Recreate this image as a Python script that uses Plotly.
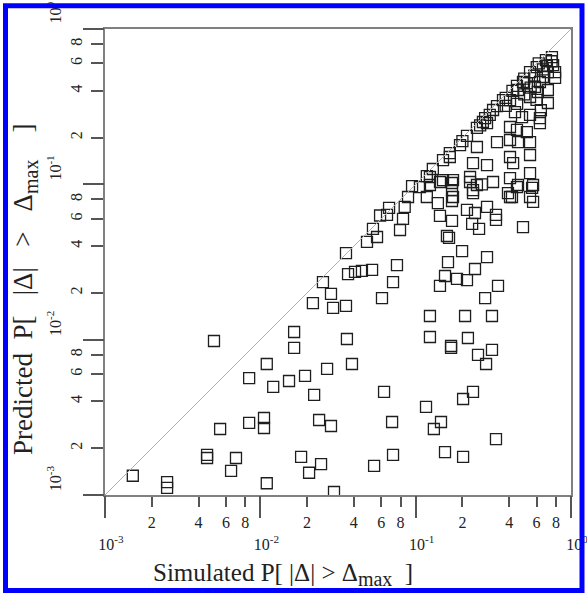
import plotly.graph_objects as go

# Simulated (x) and predicted (y) probabilities
sim_x = [
    1.51e-3, 2.51e-3, 2.51e-3, 4.54e-3, 4.54e-3, 5.51e-3, 6.48e-3, 6.97e-3, 8.47e-3, 1.056e-2,
    1.056e-2, 1.10e-2, 8.47e-3, 1.21e-2, 1.53e-2, 1.94e-2, 2.22e-2, 2.39e-2, 2.85e-2, 1.83e-2,
    2.46e-2, 2.06e-2, 2.98e-2, 6.26e-2, 7.05e-2, 5.40e-2, 7.15e-2, 1.166e-1, 1.456e-1, 1.31e-1,
    1.545e-1, 2.02e-1, 2.34e-1, 2.02e-1, 3.29e-1, 5.03e-3, 2.53e-2, 2.85e-2, 2.18e-2, 2.94e-2,
    1.65e-2, 1.65e-2, 1.10e-2, 2.69e-2, 9.48e-2, 1.066e-1, 1.236e-1, 1.434e-1, 1.714e-1, 1.714e-1,
    2.24e-1, 2.34e-1, 2.67e-1, 3.15e-1, 3.93e-1, 4.17e-1, 4.56e-1, 5.62e-1, 5.70e-1, 1.39e-1,
    1.714e-1, 1.434e-1, 1.714e-1, 2.14e-1, 2.41e-1, 2.88e-1, 3.29e-1, 3.29e-1, 2.31e-1, 2.56e-1,
    4.91e-1, 1.59e-1, 1.64e-1, 1.99e-1, 1.615e-1, 2.88e-1, 2.41e-1, 1.545e-1, 1.845e-1, 2.14e-1,
    1.434e-1, 3.39e-1, 2.80e-1, 1.236e-1, 2.08e-1, 3.10e-1, 1.236e-1, 1.69e-1, 1.69e-1, 2.17e-1,
    2.52e-1, 3.10e-1, 2.84e-1, 8.93e-2, 8.50e-2, 8.29e-2, 7.93e-2, 6.74e-2, 5.90e-2, 6.54e-2,
    5.31e-2, 5.64e-2, 4.86e-2, 3.56e-2, 3.67e-2, 4.07e-2, 4.51e-2, 5.24e-2, 7.58e-2, 7.15e-2,
    6.07e-2, 3.56e-2, 3.61e-2, 3.89e-2,
    7.54e-1, 6.90e-1, 7.67e-1, 7.90e-1, 7.10e-1, 6.60e-1, 7.90e-1, 6.02e-1, 5.45e-1, 6.31e-1,
    5.86e-1, 4.91e-1, 5.20e-1, 4.49e-1, 4.56e-1, 6.12e-1, 7.10e-1, 5.45e-1, 7.10e-1, 3.65e-1,
    4.05e-1, 3.34e-1, 3.15e-1, 3.80e-1, 2.71e-1, 2.80e-1, 4.36e-1, 4.84e-1, 5.45e-1, 6.31e-1,
    2.14e-1, 2.48e-1, 2.88e-1, 4.05e-1, 4.49e-1, 5.20e-1, 6.31e-1, 1.66e-1, 1.93e-1, 2.48e-1,
    3.34e-1, 4.05e-1, 4.56e-1, 5.45e-1, 1.29e-1, 1.50e-1, 1.66e-1, 2.34e-1, 2.88e-1, 4.05e-1,
    4.24e-1, 5.45e-1, 1.18e-1, 1.236e-1, 1.50e-1, 1.74e-1, 2.24e-1, 2.48e-1, 4.05e-1, 4.49e-1,
    5.45e-1, 5.70e-1, 1.18e-1, 1.74e-1, 2.34e-1, 4.05e-1, 5.45e-1,
    6.20e-1, 6.60e-1, 5.00e-1, 4.20e-1, 3.80e-1, 3.00e-1, 2.60e-1, 2.00e-1, 7.00e-1, 7.50e-1,
    5.80e-1, 4.50e-1, 5.00e-1, 5.50e-1, 6.00e-1, 6.40e-1,
]
pred_y = [
    1.33e-3, 1.21e-3, 1.11e-3, 1.81e-3, 1.73e-3, 2.66e-3, 1.43e-3, 1.73e-3, 2.91e-3, 3.13e-3,
    2.70e-3, 1.19e-3, 5.66e-3, 4.96e-3, 5.42e-3, 5.84e-3, 4.41e-3, 3.04e-3, 2.78e-3, 1.76e-3,
    1.58e-3, 1.39e-3, 1.045e-3, 4.61e-3, 2.95e-3, 1.54e-3, 1.81e-3, 3.69e-3, 2.95e-3, 2.66e-3,
    1.89e-3, 4.15e-3, 4.61e-3, 1.76e-3, 2.29e-3, 9.80e-3, 2.35e-2, 1.97e-2, 1.72e-2, 1.60e-2,
    1.12e-2, 8.85e-3, 6.97e-3, 6.48e-3, 9.75e-2, 9.60e-2, 9.90e-2, 1.035e-1, 1.02e-1, 9.19e-2,
    1.035e-1, 9.19e-2, 1.00e-1, 1.035e-1, 8.78e-2, 8.29e-2, 9.90e-2, 9.48e-2, 7.70e-2, 7.58e-2,
    7.81e-2, 6.26e-2, 5.81e-2, 6.84e-2, 6.54e-2, 7.15e-2, 6.35e-2, 5.90e-2, 5.56e-2, 5.16e-2,
    5.31e-2, 4.65e-2, 4.52e-2, 3.72e-2, 3.16e-2, 3.40e-2, 2.85e-2, 2.57e-2, 2.46e-2, 2.42e-2,
    2.22e-2, 2.22e-2, 1.85e-2, 1.42e-2, 1.42e-2, 1.42e-2, 1.04e-2, 9.10e-3, 8.85e-3, 1.025e-2,
    7.98e-3, 8.60e-3, 6.97e-3, 8.29e-2, 7.15e-2, 5.99e-2, 5.08e-2, 7.05e-2, 6.30e-2, 6.35e-2,
    5.16e-2, 4.58e-2, 4.26e-2, 3.61e-2, 2.64e-2, 2.73e-2, 2.77e-2, 2.81e-2, 3.02e-2, 2.35e-2,
    1.85e-2, 1.65e-2, 1.01e-2, 6.97e-3,
    6.60e-1, 6.31e-1, 5.86e-1, 5.28e-1, 5.28e-1, 4.91e-1, 4.84e-1, 5.69e-1, 5.28e-1, 4.56e-1,
    4.24e-1, 4.56e-1, 4.49e-1, 4.30e-1, 4.05e-1, 3.93e-1, 4.05e-1, 3.65e-1, 3.34e-1, 3.49e-1,
    3.49e-1, 3.19e-1, 3.01e-1, 3.20e-1, 2.52e-1, 2.67e-1, 2.92e-1, 2.71e-1, 2.80e-1, 2.67e-1,
    2.05e-1, 2.31e-1, 2.48e-1, 2.34e-1, 2.24e-1, 2.17e-1, 2.48e-1, 1.59e-1, 1.79e-1, 1.74e-1,
    1.87e-1, 1.93e-1, 1.87e-1, 1.87e-1, 1.255e-1, 1.43e-1, 1.50e-1, 1.37e-1, 1.33e-1, 1.50e-1,
    1.37e-1, 1.545e-1, 1.13e-1, 1.115e-1, 1.066e-1, 1.066e-1, 1.115e-1, 9.90e-2, 1.098e-1, 9.60e-2,
    1.18e-1, 9.90e-2, 8.29e-2, 8.29e-2, 8.78e-2, 8.29e-2, 8.29e-2,
    6.00e-1, 5.50e-1, 4.80e-1, 4.00e-1, 3.60e-1, 2.80e-1, 2.40e-1, 1.90e-1, 5.80e-1, 6.20e-1,
    5.00e-1, 3.30e-1, 3.80e-1, 4.20e-1, 3.50e-1, 3.00e-1,
]

# Axis ticks
minor_vals = [2e-3, 4e-3, 6e-3, 8e-3, 2e-2, 4e-2, 6e-2, 8e-2, 2e-1, 4e-1, 6e-1, 8e-1]
minor_text = ["2", "4", "6", "8"] * 3
major_vals = [1e-3, 1e-2, 1e-1, 1.0]
major_text = ["10<sup>-3</sup>", "10<sup>-2</sup>", "10<sup>-1</sup>", "10<sup>0</sup>"]
diag = [1e-3, 1.0]
axis_range = [-3.0001, 0.0001]

SERIF = "Liberation Serif, Times New Roman, serif"
W, H = 587, 594
ML, MR, MT, MB = 105, 16, 29, 99
PW, PH = W - ML - MR, H - MT - MB
NB = "\u00a0"


def px(xp):
    return (xp - ML) / PW


def py(yp):
    return (H - MB - yp) / PH


fig = go.Figure()
fig.add_trace(go.Scatter(x=diag, y=diag, mode="lines", xaxis="x2", yaxis="y2",
                         line=dict(color="#b0b0b0", width=1), hoverinfo="skip", showlegend=False))
fig.add_trace(go.Scatter(x=sim_x, y=pred_y, mode="markers", showlegend=False,
                         marker=dict(symbol="square-open", size=11, color="#1e1e1e",
                                     line=dict(width=1.3, color="#1e1e1e"))))

common = dict(type="log", range=axis_range, showgrid=False, zeroline=False, automargin=False,
              ticks="outside", tickcolor="#555555", tickwidth=1.5, ticklabeloverflow="allow",
              tickfont=dict(family=SERIF, size=16, color="#222222"))

fig.update_layout(
    width=W, height=H,
    margin=dict(l=ML, r=MR, t=MT, b=MB, autoexpand=False),
    paper_bgcolor="white", plot_bgcolor="white",
    xaxis=dict(**common, tickvals=minor_vals, ticktext=minor_text, ticklen=10,
               showline=True, linecolor="#808080", linewidth=1.5, mirror=True,
               ticklabelstandoff=2),
    yaxis=dict(**common, tickvals=minor_vals, ticktext=minor_text, ticklen=12,
               showline=True, linecolor="#808080", linewidth=1.5, mirror=True,
               tickangle=-90, ticklabelstandoff=3),
    xaxis2=dict(**common, overlaying="x", anchor="y2", side="bottom",
                tickvals=major_vals, ticktext=major_text, ticklen=22,
                ticklabelshift=6, ticklabelstandoff=13, showline=False),
    yaxis2=dict(**common, overlaying="y", anchor="x2", side="left",
                tickvals=major_vals, ticktext=major_text, ticklen=21,
                tickangle=-90, ticklabelshift=-14, ticklabelstandoff=16, showline=False),
)

sub = "<sub><span style='font-size:20px'>max</span></sub>"
xt = "Simulated" + NB + "P[" + NB + "|Δ|" + NB + "&gt;" + NB + "Δ" + sub + NB * 2 + "]"
yt = ("Predicted" + NB * 2 + "P[" + NB * 3 + "|Δ|" + NB * 3 + "&gt;" + NB * 3
      + "Δ" + sub + NB * 4 + "]")

fig.add_annotation(text=xt, xref="paper", yref="paper", xanchor="center", yanchor="middle",
                   x=px(283), y=py(574), showarrow=False,
                   font=dict(family=SERIF, size=25, color="#222222"))
fig.add_annotation(text=yt, xref="paper", yref="paper", xanchor="center", yanchor="middle",
                   x=px(25), y=py(290), showarrow=False, textangle=-90,
                   font=dict(family=SERIF, size=27, color="#222222"))

# Blue frame around the whole figure
fig.add_shape(type="rect", xref="paper", yref="paper",
              x0=px(5.5), x1=px(582), y0=py(590.5), y1=py(5.8),
              line=dict(color="#0000ff", width=5), fillcolor="rgba(0,0,0,0)", layer="above")

fig.write_html("out.html", config={"displayModeBar": False},
               post_script="document.body.style.margin='0px';document.body.style.overflow='hidden';")
